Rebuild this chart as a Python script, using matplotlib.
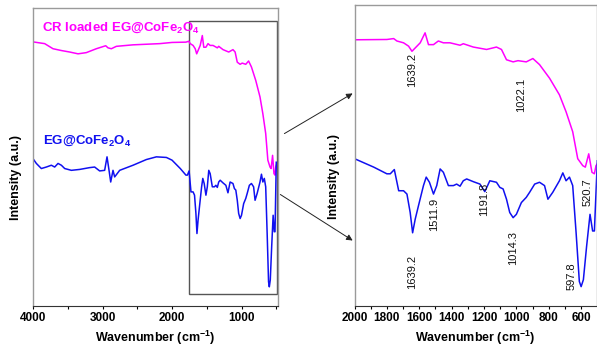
import numpy as np
import matplotlib
matplotlib.use("Agg")
import matplotlib.pyplot as plt
from matplotlib.patches import Rectangle, FancyArrowPatch
from matplotlib.ticker import MultipleLocator, NullLocator

plt.rcParams["font.family"] = ["Liberation Sans", "DejaVu Sans"]
plt.rcParams["mathtext.fontset"] = "custom"
plt.rcParams["mathtext.rm"] = "Liberation Sans"
plt.rcParams["mathtext.bf"] = "Liberation Sans:bold"

# FTIR spectra (wavenumber in cm-1, intensity in a.u.)
wn_cr = [3976, 3832, 3712, 3592, 3472, 3352, 3233, 3089, 2954, 2921, 2873, 2801,
         2561, 2177, 2000, 1800, 1758, 1738, 1697, 1666, 1645, 1625, 1594, 1564,
         1543, 1512, 1482, 1451, 1410, 1348, 1328, 1266, 1184, 1123, 1092, 1061,
         1020, 990, 939, 898, 857, 795, 734, 693, 652, 621, 590, 574, 553, 533,
         518, 508, 500]
int_cr = [88.1, 87.6, 85.9, 85.3, 84.8, 84.2, 84.6, 85.9, 86.9, 86.2, 85.9, 86.7,
          87.2, 87.6, 88.0, 88.1, 88.4, 87.6, 87.0, 85.9, 84.2, 85.3, 87.0, 90.3,
          86.4, 86.4, 87.6, 87.0, 87.0, 86.2, 86.7, 85.6, 84.8, 85.6, 84.8, 81.4,
          80.7, 81.1, 80.7, 81.8, 79.8, 75.3, 69.8, 64.2, 57.6, 48.7, 46.4, 45.9,
          50.3, 44.2, 43.7, 46.4, 47.0]

wn_eg = [4000, 3952, 3880, 3808, 3736, 3688, 3640, 3592, 3544, 3448, 3329, 3185,
         3113, 3041, 2969, 2935, 2906, 2882, 2849, 2825, 2753, 2561, 2369, 2225,
         2081, 2000, 1881, 1800, 1779, 1754, 1727, 1697, 1676, 1656, 1641, 1625,
         1605, 1574, 1557, 1537, 1512, 1492, 1471, 1451, 1420, 1389, 1369, 1348,
         1328, 1307, 1266, 1225, 1195, 1164, 1123, 1102, 1082, 1061, 1041, 1020,
         1000, 969, 939, 918, 887, 857, 826, 805, 775, 734, 713, 693, 672, 652,
         631, 611, 600, 586, 566, 545, 529, 518, 508, 500]
int_eg = [49.2, 47.6, 45.9, 46.4, 47.0, 46.4, 47.6, 47.0, 45.9, 45.3, 45.6, 46.2,
          46.4, 45.1, 45.3, 49.8, 45.3, 41.4, 45.3, 43.1, 45.3, 47.0, 48.9, 49.8,
          49.6, 48.7, 45.9, 43.7, 43.7, 45.1, 38.1, 38.1, 37.0, 30.9, 24.2, 28.7,
          33.1, 39.8, 42.6, 40.9, 37.0, 39.8, 45.3, 44.2, 39.8, 39.8, 40.3, 39.6,
          41.4, 42.0, 41.1, 40.3, 37.8, 41.4, 40.9, 39.2, 38.7, 35.3, 30.9, 29.2,
          30.3, 34.2, 35.9, 37.6, 40.3, 40.9, 39.8, 35.3, 37.6, 41.4, 44.0, 41.4,
          42.6, 39.8, 24.2, 8.1, 6.4, 8.7, 19.8, 30.3, 24.8, 24.8, 37.6, 48.0]

# peak labels in the zoomed panel
peak_text = ["1639.2", "1022.1", "1639.2", "1511.9", "1191.8", "1014.3", "597.8", "520.7"]
peak_x = [1647, 970, 1647, 1506, 1198, 1019, 656, 557]
peak_y = [78.0, 69.7, 11.3, 30.3, 35.3, 19.3, 9.7, 37.7]

PINK = "#ff00ff"
BLUE = "#1010f0"
W, H = 597, 346

fig = plt.figure(figsize=(W / 100, H / 100), dpi=100)
ax1 = fig.add_axes([33 / W, 1 - 306 / H, 245 / W, 298 / H])
ax2 = fig.add_axes([354.5 / W, 1 - 306 / H, 242 / W, 301 / H])


def style(ax, major, minor):
    for s in ["top", "right", "left"]:
        ax.spines[s].set_color("#9a9a9a")
        ax.spines[s].set_linewidth(1.0)
    ax.spines["bottom"].set_color("#333333")
    ax.axvline(ax.get_xlim()[0], ymin=0, ymax=0.64, color="#333333", lw=1.2)
    ax.xaxis.set_major_locator(MultipleLocator(major))
    ax.xaxis.set_minor_locator(MultipleLocator(minor))
    ax.yaxis.set_major_locator(NullLocator())
    ax.tick_params(axis="x", which="major", length=2.5, width=0.8, labelsize=8.5, pad=2)
    ax.tick_params(axis="x", which="minor", length=2, width=0.8)
    for lab in ax.get_xticklabels():
        lab.set_fontweight("bold")
    ax.set_xlabel(r"Wavenumber $\mathbf{(cm^{-1})}$", fontsize=9, fontweight="bold", labelpad=3)
    ax.set_ylabel("Intensity (a.u.)", fontsize=9, fontweight="bold")


for ax in (ax1, ax2):
    ax.plot(wn_cr, int_cr, color=PINK, lw=1.1)
    ax.plot(wn_eg, int_eg, color=BLUE, lw=1.1)
    ax.set_ylim(0, 99.5)

ax1.set_xlim(4000, 475)
ax2.set_xlim(2000, 505)
style(ax1, 1000, 500)
style(ax2, 200, 100)
ax1.yaxis.set_label_coords(-0.045, 0.43)
ax2.yaxis.set_label_coords(-0.06, 0.43)

ax1.add_patch(Rectangle((1750, 3.9), 489 - 1750, 95.1 - 3.9, fill=False,
                        edgecolor="#555555", lw=1.0))

ax1.text(3870, 93, r"CR loaded EG@CoFe$_\mathbf{2}$O$_\mathbf{4}$", color=PINK,
         fontsize=9.5, fontweight="bold", va="center")
ax1.text(3850, 55, r"EG@CoFe$_\mathbf{2}$O$_\mathbf{4}$", color=BLUE,
         fontsize=9.5, fontweight="bold", va="center")

for t, x, y in zip(peak_text, peak_x, peak_y):
    ax2.text(x, y, t, rotation=90, ha="center", va="center", fontsize=8, color="#111111")

for (x0, y0), (x1, y1) in [((282, 135), (355, 92)), ((278, 193), (355, 242))]:
    fig.add_artist(FancyArrowPatch((x0 / W, 1 - y0 / H), (x1 / W, 1 - y1 / H),
                                   transform=fig.transFigure, arrowstyle="-|>",
                                   mutation_scale=9, color="#222222", lw=0.7))

fig.savefig("out.png", dpi=100)
